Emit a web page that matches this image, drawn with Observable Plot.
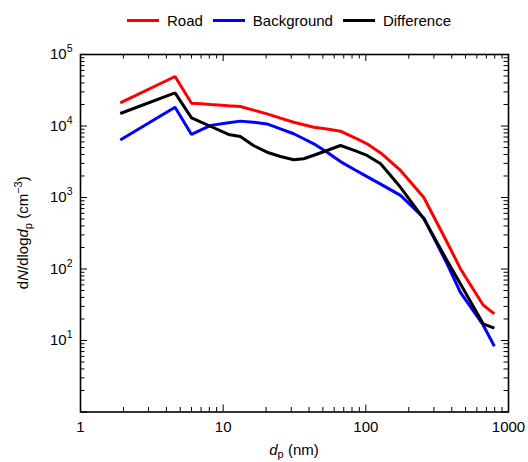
<!DOCTYPE html>
<html><head><meta charset="utf-8">
<script src="https://cdn.jsdelivr.net/npm/d3@7"></script>
<script src="https://cdn.jsdelivr.net/npm/@observablehq/plot@0.6"></script>
<style>
body{margin:0;background:#fff;font-family:"Liberation Sans",Arial,sans-serif;}
#legend{display:flex;align-items:center;height:34px;width:528px;padding-left:127px;box-sizing:border-box;padding-top:6px;}
.sw{width:32px;height:3px;margin-right:8px;}
.lt{font-size:15px;margin-right:10px;color:#000;}
#chart svg{display:block;}
</style></head><body>
<div id="legend"></div>
<div id="chart"></div>
<script>
// Particle diameter (nm)
const diameters = [1.9, 4.6, 6.0, 7.0, 8.2, 10.9, 13.2, 16.3, 20.3, 25.2, 31.2, 36.7, 43.2, 53.5, 66.4, 83, 102, 127, 175, 255, 371, 460, 664, 796];
// dN/dlogdp (cm^-3)
const road       = [21000, 49200, 20800, 20500, 20000, 19200, 18700, 16700, 14800, 12900, 11300, 10400, 9630, 9100, 8460, 6900, 5640, 4200, 2390, 1000, 237, 101, 31.4, 23.6];
const background = [6370, 18300, 7610, 8800, 10200, 11100, 11700, 11300, 10700, 9130, 7790, 6630, 5640, 4300, 3180, 2460, 1960, 1540, 1070, 516, 118, 47, 16.5, 8.3];
const difference = [14960, 29100, 13000, 11300, 9840, 7610, 7130, 5340, 4300, 3750, 3380, 3480, 3900, 4540, 5340, 4550, 3870, 2960, 1390, 504, 131, 62, 17.1, 14.9];

const seriesNames = ["Road", "Background", "Difference"];
const seriesValues = [road, background, difference];
const seriesColors = ["#ff0000", "#0000ff", "#000000"];

const xTicks = [1, 10, 100, 1000];
const xTickLabels = ["1", "10", "100", "1000"];
const yTicks = [10, 100, 1000, 10000, 100000];
const yTickExponents = ["1", "2", "3", "4", "5"];

// legend
const legend = document.getElementById("legend");
seriesNames.forEach((n, i) => {
  const s = document.createElement("div"); s.className = "sw"; s.style.background = seriesColors[i]; legend.appendChild(s);
  const t = document.createElement("div"); t.className = "lt"; t.textContent = n; legend.appendChild(t);
});

const rows = [];
seriesNames.forEach((n, i) => diameters.forEach((d, j) => rows.push({series: n, dp: d, value: seriesValues[i][j]})));

const W = 528, H = 428, mL = 80, mR = 20, mT = 20, mB = 50.5;
const pw = W - mL - mR, ph = H - mT - mB;
const majorX = [1, 10, 100, 1000];
const minorX = []; for (const p of [1, 10, 100]) for (let k = 2; k <= 9; k++) minorX.push(k * p);
const majorY = [1, 10, 100, 1000, 10000, 100000];
const minorY = []; for (const p of [1, 10, 100, 1000, 10000]) for (let k = 2; k <= 9; k++) minorY.push(k * p);
const LM = 7, Lm = 4.5;

const svg = Plot.plot({
  width: W, height: H,
  marginLeft: mL, marginRight: mR, marginTop: mT, marginBottom: mB,
  style: {fontFamily: "Liberation Sans, Arial, sans-serif", fontSize: "15px", background: "#fff"},
  x: {type: "log", domain: [1, 1000]},
  y: {type: "log", domain: [1, 100000]},
  color: {domain: seriesNames, range: seriesColors},
  marks: [
    Plot.line(rows, {x: "dp", y: "value", z: "series", stroke: "series", strokeWidth: 3, strokeLinejoin: "miter", strokeLinecap: "butt"}),
    // inward ticks, bottom/top
    Plot.tickX(majorX, {x: d => d, insetTop: ph - LM, stroke: "black"}),
    Plot.tickX(majorX, {x: d => d, insetBottom: ph - LM, stroke: "black"}),
    Plot.tickX(minorX, {x: d => d, insetTop: ph - Lm, stroke: "black"}),
    Plot.tickX(minorX, {x: d => d, insetBottom: ph - Lm, stroke: "black"}),
    // inward ticks, left/right
    Plot.tickY(majorY, {y: d => d, insetRight: pw - LM, stroke: "black"}),
    Plot.tickY(majorY, {y: d => d, insetLeft: pw - LM, stroke: "black"}),
    Plot.tickY(minorY, {y: d => d, insetRight: pw - Lm, stroke: "black"}),
    Plot.tickY(minorY, {y: d => d, insetLeft: pw - Lm, stroke: "black"}),
    Plot.axisX({ticks: xTicks, tickFormat: d => xTickLabels[xTicks.indexOf(d)], tickSize: 0, tickPadding: 9.5, fontSize: 15, label: null}),
    Plot.axisY({ticks: yTicks, tickFormat: d => yTickExponents[yTicks.indexOf(d)], tickSize: 0, tickPadding: 8, fontSize: 15, label: null}),
    Plot.frame({stroke: "black", strokeWidth: 1.6})
  ]
});

const ns = "http://www.w3.org/2000/svg";
svg.querySelectorAll('g[aria-label="y-axis tick label"] text').forEach(t => {
  const e = t.textContent;
  t.textContent = "";
  const b = document.createElementNS(ns, "tspan"); b.textContent = "10"; t.appendChild(b);
  const s = document.createElementNS(ns, "tspan"); s.setAttribute("dy", "-7"); s.setAttribute("font-size", "10.5"); s.textContent = e; t.appendChild(s);
});

const S = d3.select(svg);
// x label
const xl = S.append("text").attr("x", mL + pw / 2).attr("y", 421).attr("text-anchor", "middle").attr("font-size", 15).attr("fill", "black");
xl.append("tspan").attr("font-style", "italic").text("d");
xl.append("tspan").attr("font-size", 11).attr("dy", 3).text("p");
xl.append("tspan").attr("dy", -3).text(" (nm)");
// y label
const yl = S.append("text").attr("transform", `translate(28,${mT + ph / 2}) rotate(-90)`).attr("text-anchor", "middle").attr("font-size", 15).attr("fill", "black");
yl.append("tspan").text("d");
yl.append("tspan").attr("font-style", "italic").text("N");
yl.append("tspan").text("/dlog");
yl.append("tspan").attr("font-style", "italic").text("d");
yl.append("tspan").attr("font-size", 11).attr("dy", 4).text("p");
yl.append("tspan").attr("dy", -4).text(" (cm");
yl.append("tspan").attr("font-size", 11).attr("dy", -6).text("\u22123");
yl.append("tspan").attr("dy", 6).text(")");

document.getElementById("chart").appendChild(svg);
</script>
</body></html>
